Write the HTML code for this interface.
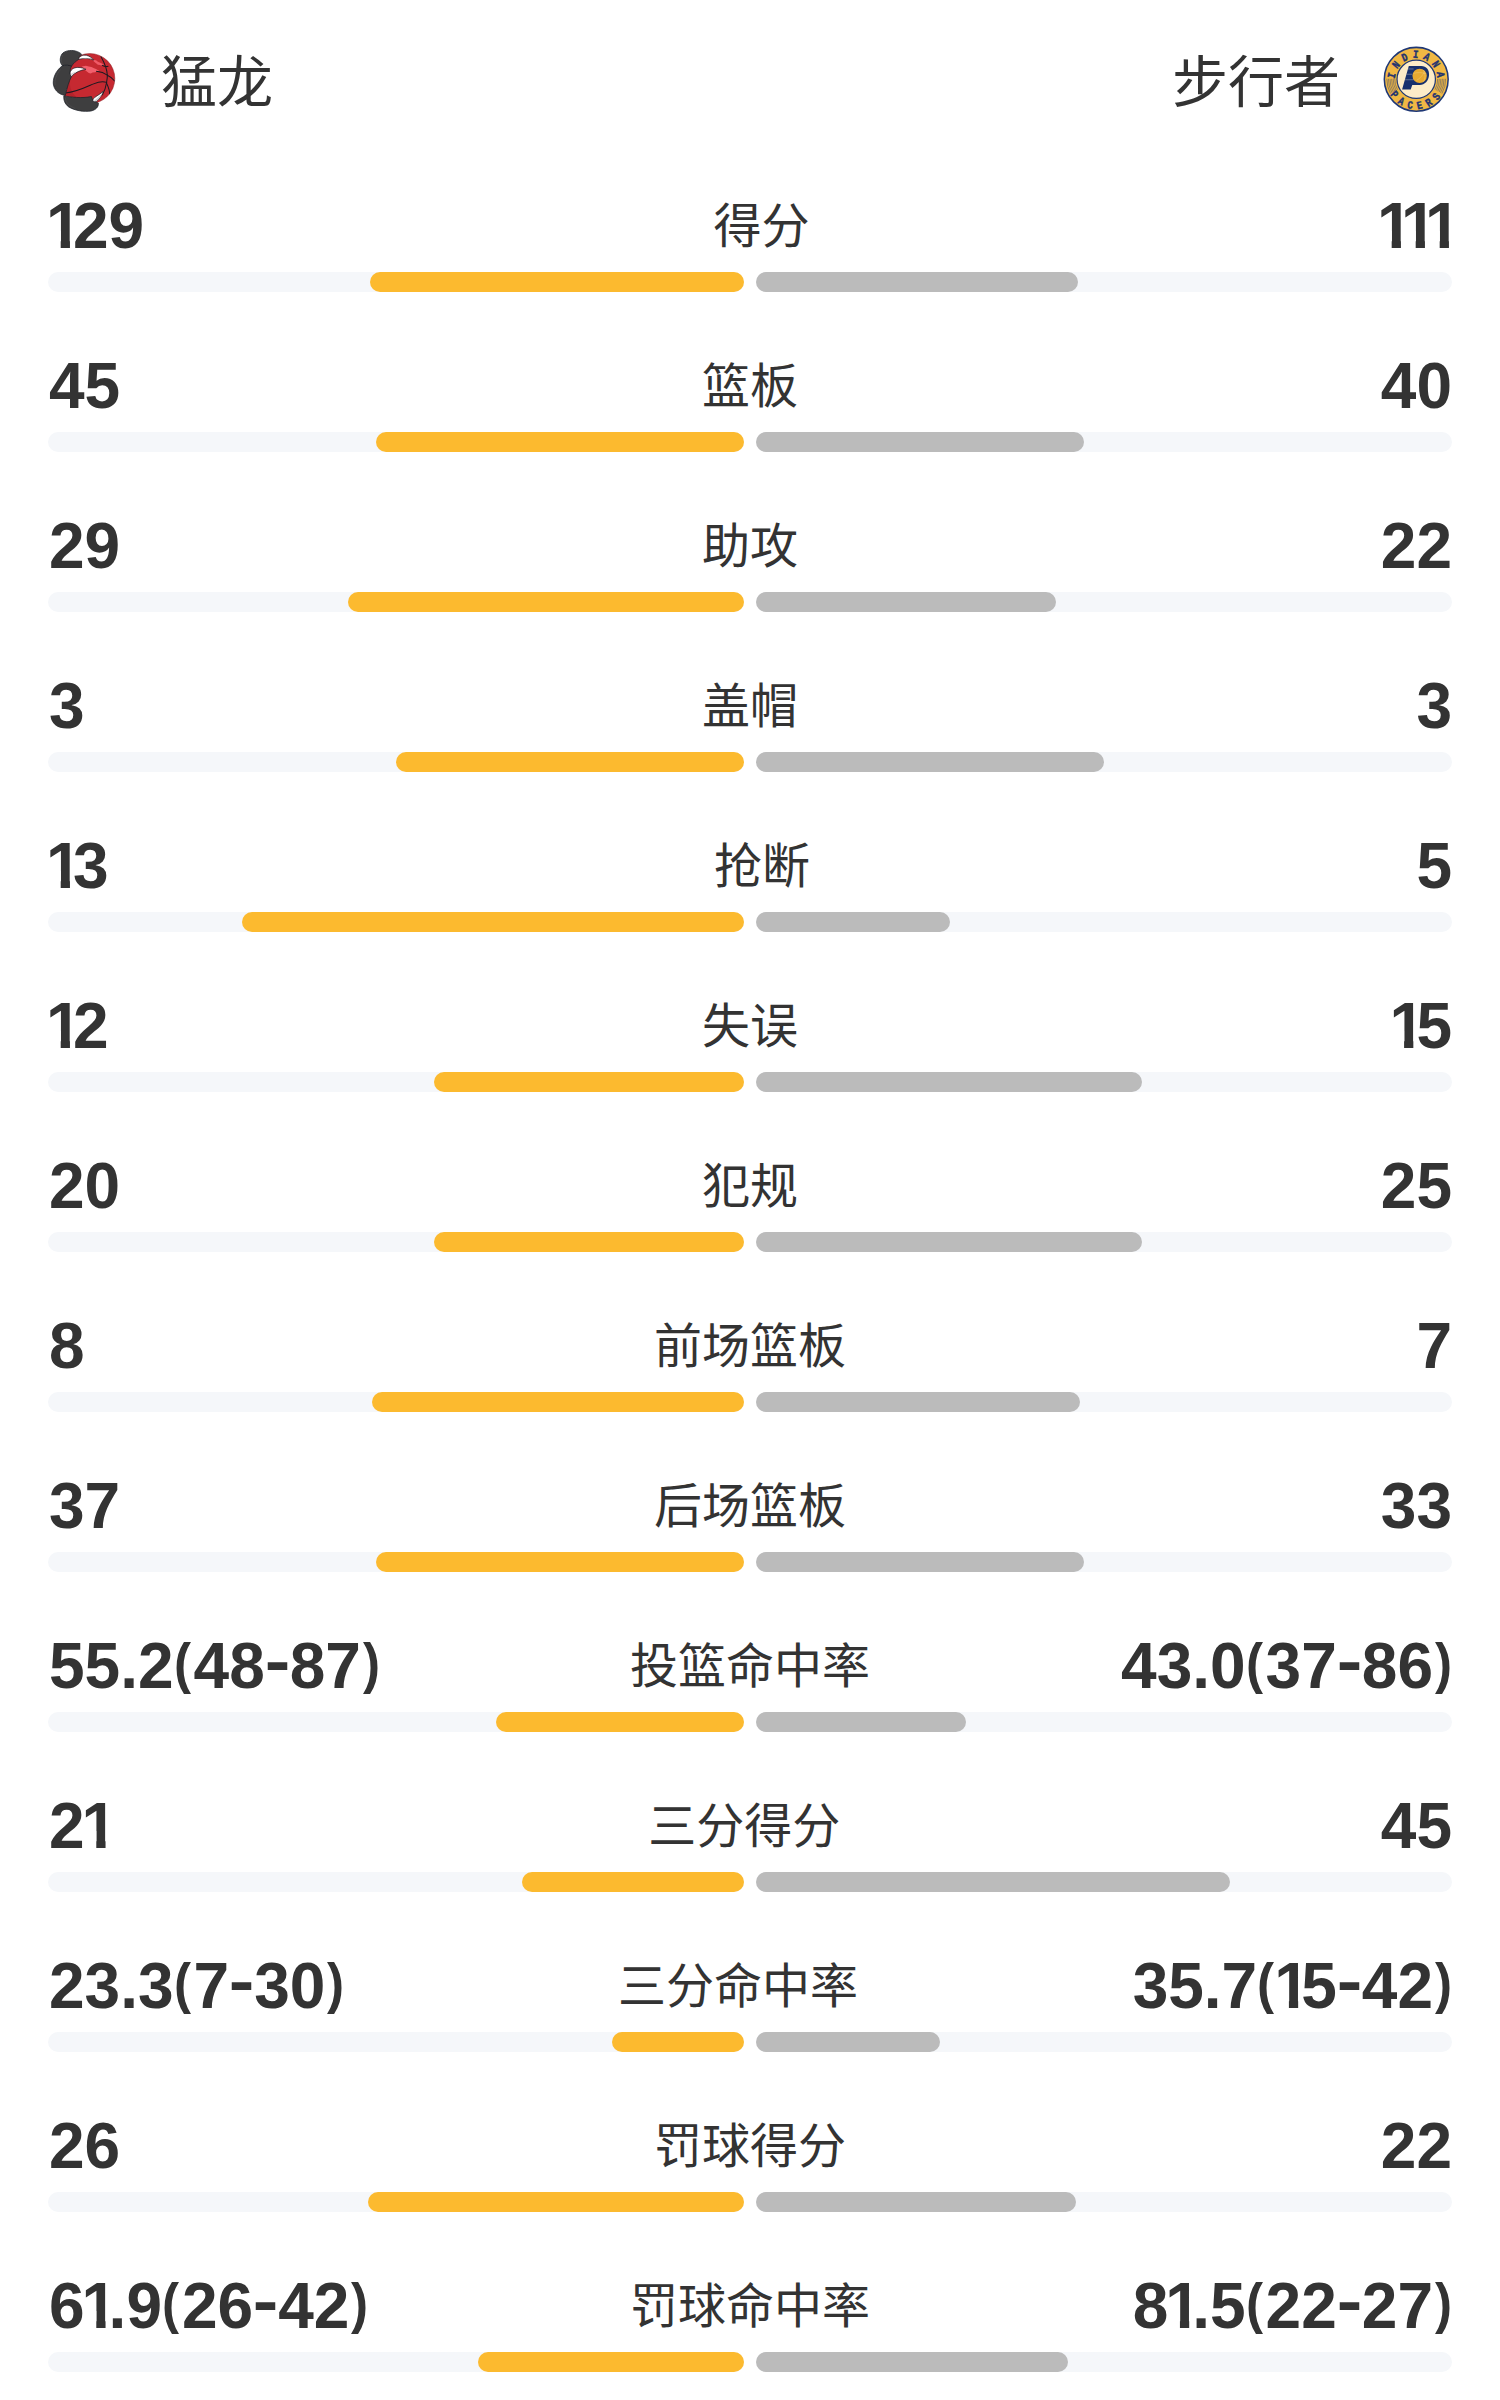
<!DOCTYPE html>
<html lang="zh-CN"><head><meta charset="utf-8"><title>猛龙 vs 步行者</title>
<style>
*{box-sizing:border-box}
html,body{margin:0;padding:0;background:#fff}
body{width:1500px;height:2400px;position:relative;overflow:hidden;color:#333;font-family:"Liberation Sans","Noto Sans CJK SC",sans-serif}
.hdr{position:absolute;left:0;top:0;width:1500px;height:160px}
.lg{position:absolute;top:44px;width:72px;height:72px}
.lg.l{left:48px}
.lg.r{left:1380px}
.lg svg{display:block;width:72px;height:72px;overflow:visible}
.nm{position:absolute;top:3px;height:160px;line-height:160px;font-size:56px;white-space:nowrap}
.nm.l{left:161px}
.nm.r{right:160px}
.row{position:absolute;left:48px;width:1404px;height:160px}
.top{position:absolute;left:0;top:25px;width:1404px;height:80px;display:flex;justify-content:space-between;align-items:center}
.v{font-weight:bold;font-size:64px;line-height:80px;white-space:nowrap;position:relative;top:1px}
.v:first-child{left:1px}
.lab{font-size:48px;line-height:80px;white-space:nowrap;position:relative;top:2px}
.o{display:inline-block;width:24px;height:80px;text-indent:-3px;vertical-align:top;clip-path:polygon(0 0,20.95px 0,20.95px 100%,11.7px 100%,11.7px 45px,0 45px)}
.h{display:inline-block;width:25px;text-align:center;transform:scaleX(1.2);position:relative;top:-5px}
.p{display:inline-block;width:19px;text-align:center;transform:scale(.8,.87);transform-origin:50% 15.8px}
.pl{width:20px;position:relative;left:-2px}
.tr{position:absolute;top:112px;width:696px;height:20px;border-radius:10px;background:#f5f7fa}
.tl{left:0}
.trr{left:708px}
.tr i{position:absolute;top:0;height:20px;border-radius:10px;display:block}
.tl i{right:0;background:#fcba2f}
.trr i{left:0;background:#bbb}

</style></head><body>
<div class="hdr"><div class="lg l"><svg viewBox="0 0 1500 1500">
<defs><clipPath id="bc"><circle cx="870" cy="720" r="524"/><path d="M500,640 L345,1085 L760,1140 L760,640 Z"/></clipPath></defs>
<path d="M500,640 L345,1085 L760,1140 L760,640 Z" fill="#c62931"/>
<circle cx="870" cy="720" r="522" fill="#c62931" stroke="#8a1f26" stroke-width="10"/>
<path d="M470,690 C430,850 470,1010 610,1125 L345,1085 Z" fill="#b3222a" opacity=".8"/>
<path d="M560,1100 C700,1150 900,1140 1060,1262 L900,1180 Z" fill="#b3222a" opacity=".6"/>
<path d="M700,470 L790,452 L850,470 L905,478 L960,505 L1000,520 L1070,560 L1010,572 L985,590 L930,596 L890,615 L850,605 L810,575 L770,540 L740,500 Z" fill="#f2606d"/>
<path d="M930,330 L1000,340 L1040,372 L1100,395 L1165,428 L1125,452 L1080,440 L1040,430 L1000,402 L960,372 Z" fill="#ef5a68"/>
<g fill="none" stroke="#1b1a22" stroke-width="21" stroke-linecap="round" clip-path="url(#bc)">
<path d="M365,1020 C600,1000 790,900 950,830 C1060,782 1150,770 1225,800"/>
<path d="M1105,265 C1180,400 1232,520 1236,650 C1238,740 1218,790 1218,812 C1262,900 1292,1000 1285,1085"/>
<path d="M1218,812 C1205,900 1175,985 1135,1060"/>
<path d="M1236,650 C1300,678 1350,720 1388,772"/>
<path d="M1010,570 C1100,580 1180,610 1236,650"/>
<path d="M1130,445 C1170,470 1210,475 1250,465"/>
</g>
<g stroke="#1c2027" stroke-width="15" stroke-linejoin="round">
<path d="M300,452 C250,400 235,300 290,210 C340,140 470,120 570,145 C630,160 680,190 700,215 C670,240 640,270 640,320 C590,350 530,400 490,462 C440,440 360,440 300,452 Z" fill="#3e3e3f"/>
<path d="M300,452 C360,438 440,440 490,462 C470,500 455,560 462,620 C470,650 480,660 490,675 C440,770 400,900 360,1070 C250,1060 150,990 115,860 C90,740 150,560 300,452 Z" fill="#3e3e3f"/>
<path d="M330,1078 C480,1110 700,1135 905,1095 C920,1120 925,1160 932,1192 C970,1200 1020,1205 1050,1232 C1055,1310 1000,1370 900,1395 C760,1420 560,1390 430,1310 C350,1250 320,1160 330,1078 Z" fill="#3e3e3f"/>
<path d="M640,320 C640,260 720,220 800,235 C860,250 920,290 952,335 C880,300 760,285 640,320 Z" fill="#fff"/>
<path d="M462,620 C455,540 530,490 620,488 C690,490 750,505 792,528 C690,540 560,590 490,675 C475,660 465,645 462,620 Z" fill="#fff"/>
<path d="M932,1192 C930,1150 960,1120 1000,1095 C1060,1060 1110,1020 1152,985 C1120,1080 1060,1160 1010,1198 C980,1205 950,1200 932,1192 Z" fill="#fff"/>
</g>
<g fill="none" stroke="#58585a" stroke-width="14" opacity=".7">
<path d="M300,420 C270,370 262,300 305,232"/>
<path d="M150,850 C130,760 170,640 260,530"/>
<path d="M365,1130 C370,1220 430,1290 560,1340"/>
</g>
<path d="M668,318 C740,290 840,292 930,326 C880,312 760,300 668,318 Z" fill="#c9c9cc"/>
<path d="M955,1185 C1010,1150 1080,1080 1140,1005 C1110,1080 1060,1150 1005,1192 Z" fill="#cfcfd2"/>
<path d="M470,630 C480,650 485,660 492,668 C520,630 560,600 600,575 C550,585 500,600 470,630 Z" fill="#d5d5d8"/>
</svg></div><div class="nm l">猛龙</div><div class="nm r">步行者</div><div class="lg r"><svg viewBox="0 0 1500 1500">
<defs>
<path id="pa" d="M341.5,885.5 A440,440 0 1 1 1168.5,885.5"/>
<path id="pb" d="M169.6,948.1 A623,623 0 0 0 1340.4,948.1"/>
</defs>
<circle cx="755" cy="735" r="665" fill="#f0b844" stroke="#1f3876" stroke-width="32"/>
<g fill="none" stroke="#2b3f74" stroke-width="13" opacity=".75">
<path d="M308,727 A447,447 0 0 0 364,952"/><path d="M1202,727 A447,447 0 0 1 1146,952"/><path d="M275,727 A480,480 0 0 0 335,968"/><path d="M1235,727 A480,480 0 0 1 1175,968"/><path d="M242,726 A513,513 0 0 0 306,984"/><path d="M1268,726 A513,513 0 0 1 1204,984"/><path d="M209,725 A546,546 0 0 0 277,1000"/><path d="M1301,725 A546,546 0 0 1 1233,1000"/><path d="M176,725 A579,579 0 0 0 249,1016"/><path d="M1334,725 A579,579 0 0 1 1261,1016"/><path d="M143,724 A612,612 0 0 0 220,1032"/><path d="M1367,724 A612,612 0 0 1 1290,1032"/>
</g>
<circle cx="755" cy="735" r="400" fill="#fdecc8" stroke="#1f3876" stroke-width="26"/>
<path d="M600,460 L860,460 C965,460 1028,540 1022,640 C1015,770 930,852 830,852 L672,852 L640,950 L460,950 Z" fill="#17306d"/>
<circle cx="826" cy="664" r="150" fill="#e8a930"/>
<g fill="none" stroke="#f6dca0" stroke-width="8" opacity=".85"><path d="M700,610 C780,590 870,590 960,620"/><path d="M760,760 C820,720 900,660 930,560"/><path d="M900,540 C950,620 950,720 900,790"/></g>
<g stroke="#c9c5c0" stroke-width="9"><path d="M583,520 L700,520"/><path d="M552,630 L676,630"/><path d="M519,745 L700,745"/></g>
<g font-family="'Liberation Mono',monospace" font-weight="bold" font-size="235" fill="#1f3370" stroke="#1f3370" stroke-width="9">
<text letter-spacing="115" textLength="1435" lengthAdjust="spacingAndGlyphs"><textPath href="#pa" startOffset="159" textLength="1435" lengthAdjust="spacingAndGlyphs">INDIANA</textPath></text>
<text letter-spacing="143" textLength="1362" lengthAdjust="spacingAndGlyphs"><textPath href="#pb" startOffset="112" textLength="1362" lengthAdjust="spacingAndGlyphs">PACERS</textPath></text>
</g>
</svg></div></div>
<div class="row" style="top:160px"><div class="top"><span class="v"><span class="o">1</span>29</span><span class="lab">得分</span><span class="v"><span class="o">1</span><span class="o">1</span><span class="o">1</span></span></div><div class="tr tl"><i style="width:374px"></i></div><div class="tr trr"><i style="width:322px"></i></div></div>
<div class="row" style="top:320px"><div class="top"><span class="v">45</span><span class="lab">篮板</span><span class="v">40</span></div><div class="tr tl"><i style="width:368px"></i></div><div class="tr trr"><i style="width:328px"></i></div></div>
<div class="row" style="top:480px"><div class="top"><span class="v">29</span><span class="lab">助攻</span><span class="v">22</span></div><div class="tr tl"><i style="width:396px"></i></div><div class="tr trr"><i style="width:300px"></i></div></div>
<div class="row" style="top:640px"><div class="top"><span class="v">3</span><span class="lab">盖帽</span><span class="v">3</span></div><div class="tr tl"><i style="width:348px"></i></div><div class="tr trr"><i style="width:348px"></i></div></div>
<div class="row" style="top:800px"><div class="top"><span class="v"><span class="o">1</span>3</span><span class="lab">抢断</span><span class="v">5</span></div><div class="tr tl"><i style="width:502px"></i></div><div class="tr trr"><i style="width:194px"></i></div></div>
<div class="row" style="top:960px"><div class="top"><span class="v"><span class="o">1</span>2</span><span class="lab">失误</span><span class="v"><span class="o">1</span>5</span></div><div class="tr tl"><i style="width:310px"></i></div><div class="tr trr"><i style="width:386px"></i></div></div>
<div class="row" style="top:1120px"><div class="top"><span class="v">20</span><span class="lab">犯规</span><span class="v">25</span></div><div class="tr tl"><i style="width:310px"></i></div><div class="tr trr"><i style="width:386px"></i></div></div>
<div class="row" style="top:1280px"><div class="top"><span class="v">8</span><span class="lab">前场篮板</span><span class="v">7</span></div><div class="tr tl"><i style="width:372px"></i></div><div class="tr trr"><i style="width:324px"></i></div></div>
<div class="row" style="top:1440px"><div class="top"><span class="v">37</span><span class="lab">后场篮板</span><span class="v">33</span></div><div class="tr tl"><i style="width:368px"></i></div><div class="tr trr"><i style="width:328px"></i></div></div>
<div class="row" style="top:1600px"><div class="top"><span class="v">55.2<span class="p pl">(</span>48<span class="h">-</span>87<span class="p">)</span></span><span class="lab">投篮命中率</span><span class="v">43.0<span class="p pl">(</span>37<span class="h">-</span>86<span class="p">)</span></span></div><div class="tr tl"><i style="width:248px"></i></div><div class="tr trr"><i style="width:210px"></i></div></div>
<div class="row" style="top:1760px"><div class="top"><span class="v">2<span class="o">1</span></span><span class="lab">三分得分</span><span class="v">45</span></div><div class="tr tl"><i style="width:222px"></i></div><div class="tr trr"><i style="width:474px"></i></div></div>
<div class="row" style="top:1920px"><div class="top"><span class="v">23.3<span class="p pl">(</span>7<span class="h">-</span>30<span class="p">)</span></span><span class="lab">三分命中率</span><span class="v">35.7<span class="p pl">(</span><span class="o">1</span>5<span class="h">-</span>42<span class="p">)</span></span></div><div class="tr tl"><i style="width:132px"></i></div><div class="tr trr"><i style="width:184px"></i></div></div>
<div class="row" style="top:2080px"><div class="top"><span class="v">26</span><span class="lab">罚球得分</span><span class="v">22</span></div><div class="tr tl"><i style="width:376px"></i></div><div class="tr trr"><i style="width:320px"></i></div></div>
<div class="row" style="top:2240px"><div class="top"><span class="v">6<span class="o">1</span>.9<span class="p pl">(</span>26<span class="h">-</span>42<span class="p">)</span></span><span class="lab">罚球命中率</span><span class="v">8<span class="o">1</span>.5<span class="p pl">(</span>22<span class="h">-</span>27<span class="p">)</span></span></div><div class="tr tl"><i style="width:266px"></i></div><div class="tr trr"><i style="width:312px"></i></div></div>
</body></html>
